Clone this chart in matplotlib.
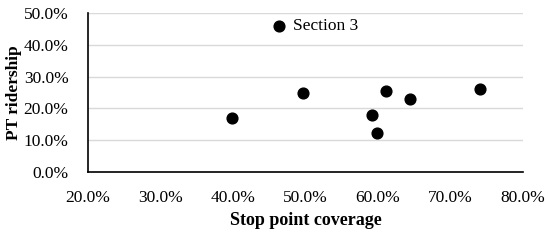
import matplotlib
matplotlib.use("Agg")
import matplotlib.pyplot as plt
from matplotlib.ticker import PercentFormatter

coverage = [39.9, 46.3, 49.7, 59.1, 59.9, 61.1, 64.4, 74.0]
ridership = [17.0, 45.8, 24.8, 18.0, 12.4, 25.5, 22.9, 26.1]
annot_label = "Section 3"
annot_index = 1

plt.rcParams['font.family'] = ['Liberation Serif', 'DejaVu Serif']

fig = plt.figure(figsize=(5.5, 2.4), dpi=100)
ax = fig.add_axes([0.16, 0.283, 0.791, 0.663])
ax.scatter(coverage, ridership, s=60, color='black', zorder=3)
ax.annotate(annot_label, (coverage[annot_index], ridership[annot_index]),
            xytext=(10, 0), textcoords='offset points', va='center', ha='left', fontsize=12.5)

ax.set_xlim(20, 80)
ax.set_ylim(0, 50)
ax.set_xticks(range(20, 81, 10))
ax.set_yticks(range(0, 51, 10))
ax.xaxis.set_major_formatter(PercentFormatter(decimals=1))
ax.yaxis.set_major_formatter(PercentFormatter(decimals=1))
ax.tick_params(length=0, labelsize=12.5)
ax.tick_params(axis='y', pad=14)
ax.tick_params(axis='x', pad=13)
ax.grid(axis='y', color='#d9d9d9', linewidth=1)
ax.set_axisbelow(True)
for s in ['top', 'right']:
    ax.spines[s].set_visible(False)
for s in ['left', 'bottom']:
    ax.spines[s].set_color('black')
    ax.spines[s].set_linewidth(1.2)
ax.set_xlabel('Stop point coverage', fontsize=13, fontweight='bold')
ax.set_ylabel('PT ridership', fontsize=12.5, fontweight='bold')
ax.xaxis.set_label_coords(0.5, -0.25)
ax.yaxis.set_label_coords(-0.152, 0.5)

fig.savefig('out.png', dpi=100)
